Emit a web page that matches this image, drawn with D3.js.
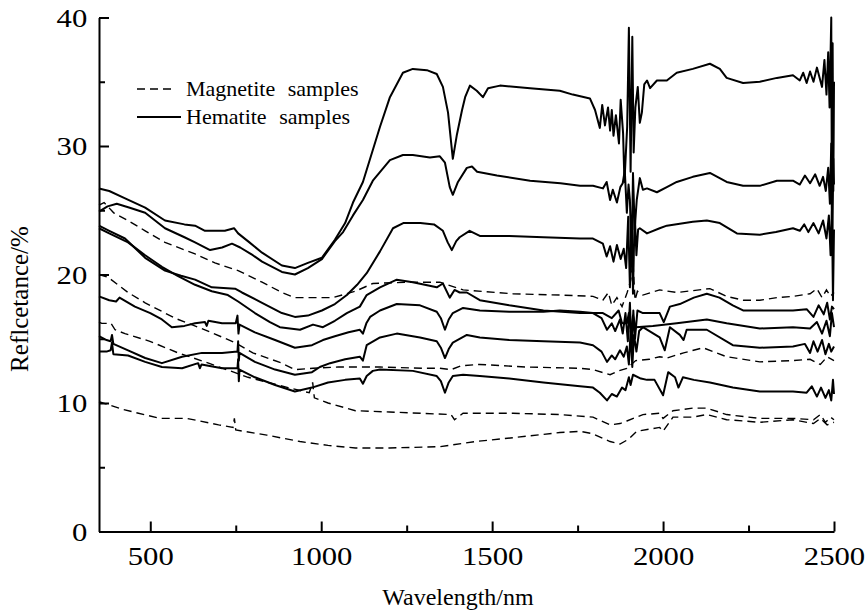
<!DOCTYPE html>
<html>
<head>
<meta charset="utf-8">
<script src="https://cdn.jsdelivr.net/npm/d3@7"></script>
<style>
  html, body { margin: 0; padding: 0; background: #fff; }
  svg { display: block; }
  text { font-family: "Liberation Serif", "Times New Roman", serif; fill: #000; }
</style>
</head>
<body>
<svg id="chart" width="867" height="611"></svg>
<script>
// ---------------- DATA (wavelength nm, reflectance %) ----------------
const xTicksMajor = [500, 1000, 1500, 2000, 2500];
const xTicksMinor = [750, 1250, 1750, 2250];
const yTicksMajor = [0, 10, 20, 30, 40];
const yTicksMinor = [5, 15, 25, 35];
const legendLabels = ["Magnetite samples", "Hematite samples"];

const hematite1 = [[350,26.7],[380,26.5],[420,26.0],[485,25.2],[543,24.2],[600,23.9],[631,23.8],[660,23.4],[718,23.4],[745,23.6],[757,23.2],[790,22.5],[827,21.7],[885,20.7],[923,20.5],[961,20.9],[1002,21.3],[1040,22.7],[1070,24.0],[1093,25.6],[1122,27.2],[1172,31.5],[1201,33.8],[1239,35.7],[1268,36.0],[1309,35.9],[1338,35.6],[1356,34.6],[1371,32.6],[1385,29.0],[1397,30.9],[1412,32.8],[1421,33.8],[1435,34.7],[1455,34.3],[1473,33.8],[1488,34.5],[1523,34.7],[1611,34.5],[1698,34.3],[1736,34.0],[1786,33.7],[1801,32.8],[1815,31.4],[1822,33.2],[1830,31.6],[1839,33.0],[1845,31.2],[1850,32.8],[1855,30.8],[1862,32.4],[1871,30.2],[1876,33.6],[1883,31.0],[1887,27.2],[1895,31.5],[1900,39.2],[1905,28.0],[1910,38.5],[1914,29.5],[1919,33.0],[1926,34.6],[1932,31.8],[1938,32.6],[1945,34.8],[1953,35.1],[1962,34.5],[1982,35.1],[2011,35.1],[2040,35.7],[2087,36.0],[2137,36.4],[2166,36.0],[2186,35.3],[2234,34.9],[2283,35.0],[2333,35.3],[2380,35.5],[2400,35.1],[2410,35.7],[2420,34.9],[2430,35.8],[2440,35.0],[2450,36.1],[2459,35.2],[2465,34.6],[2472,36.7],[2478,34.0],[2483,37.3],[2487,33.0],[2492,40.0],[2494,24.0],[2496,38.0],[2498,26.5],[2500,35.0]];

const hematite2 = [[350,24.9],[375,25.3],[402,25.5],[440,25.2],[485,24.8],[543,23.6],[600,22.9],[631,22.5],[675,21.9],[710,22.1],[739,22.4],[763,22.1],[800,21.5],[827,21.0],[885,20.2],[923,20.0],[961,20.5],[1002,21.2],[1040,22.6],[1064,23.3],[1093,24.6],[1122,25.8],[1151,27.3],[1201,28.9],[1239,29.3],[1268,29.3],[1318,29.1],[1347,29.2],[1362,28.7],[1376,26.8],[1385,26.2],[1400,27.2],[1426,28.3],[1441,28.4],[1456,28.0],[1514,27.7],[1611,27.3],[1700,27.1],[1757,26.9],[1795,26.9],[1824,26.7],[1835,27.2],[1845,25.8],[1853,26.6],[1865,25.6],[1875,26.8],[1882,27.1],[1888,28.1],[1894,24.8],[1899,27.0],[1903,25.8],[1908,21.0],[1912,27.9],[1917,23.5],[1923,25.8],[1932,27.5],[1941,26.6],[1953,26.7],[1982,26.4],[2011,26.8],[2040,27.2],[2087,27.6],[2137,27.9],[2186,27.2],[2234,26.9],[2283,26.9],[2333,27.3],[2380,27.3],[2400,27.0],[2415,27.7],[2430,27.1],[2445,27.8],[2458,26.9],[2468,27.6],[2476,26.5],[2483,28.3],[2488,25.5],[2492,30.2],[2495,22.0],[2498,29.0],[2500,27.0]];

const hematite3 = [[350,23.8],[380,23.4],[426,22.8],[485,21.3],[543,20.3],[590,19.9],[631,19.6],[680,19.0],[748,18.9],[768,18.6],[827,17.8],[885,17.0],[923,16.7],[961,16.8],[1002,17.2],[1040,17.7],[1075,18.4],[1105,19.2],[1133,20.1],[1172,21.8],[1210,23.6],[1240,24.0],[1290,24.0],[1330,23.9],[1356,23.4],[1370,22.5],[1382,21.9],[1395,22.6],[1405,22.9],[1434,23.4],[1464,23.0],[1550,23.0],[1650,22.9],[1757,22.8],[1795,22.8],[1824,22.4],[1835,21.4],[1845,22.2],[1855,21.0],[1865,22.3],[1876,21.2],[1885,22.0],[1892,20.5],[1898,24.5],[1903,19.0],[1908,24.0],[1912,18.5],[1917,24.8],[1922,21.5],[1927,23.5],[1932,23.6],[1953,23.2],[1990,23.6],[2011,23.8],[2087,24.1],[2128,24.2],[2166,24.0],[2216,23.2],[2283,23.1],[2330,23.3],[2380,23.6],[2400,23.4],[2413,23.9],[2425,23.3],[2440,24.0],[2455,23.2],[2468,24.2],[2478,22.8],[2485,24.6],[2490,21.5],[2494,25.0],[2497,18.0],[2500,23.5]];

const hematite4 = [[350,23.6],[380,23.2],[435,22.5],[485,21.5],[534,20.6],[580,19.9],[631,19.2],[680,18.7],[727,18.4],[757,17.9],[806,17.0],[850,16.3],[879,15.9],[938,15.7],[976,16.1],[1005,15.9],[1040,16.4],[1075,17.0],[1113,17.5],[1133,18.4],[1172,19.0],[1221,19.6],[1268,19.4],[1338,19.0],[1356,19.3],[1376,18.2],[1390,18.8],[1405,18.6],[1426,18.6],[1464,18.0],[1550,17.6],[1650,17.2],[1757,17.0],[1824,17.0],[1850,16.6],[1870,17.2],[1880,16.2],[1894,16.2],[1900,17.0],[1906,15.5],[1912,16.8],[1920,15.9],[1970,16.0],[2040,16.2],[2128,16.5],[2186,16.2],[2283,15.8],[2380,15.9],[2430,15.8],[2450,16.3],[2465,15.4],[2478,16.4],[2488,15.2],[2494,17.0],[2500,15.9]];

const hematite5 = [[350,18.3],[380,18.0],[400,17.9],[410,18.2],[455,17.5],[500,17.0],[534,16.5],[563,15.9],[600,16.0],[631,16.2],[660,16.3],[665,16.0],[670,16.4],[710,16.2],[750,16.2],[755,16.8],[758,15.4],[761,16.1],[806,15.5],[865,14.9],[923,14.3],[973,14.5],[1005,14.9],[1040,15.2],[1080,15.5],[1113,15.7],[1122,15.4],[1132,16.2],[1143,16.7],[1172,17.2],[1221,17.7],[1289,17.6],[1338,17.1],[1350,16.6],[1362,15.7],[1373,16.5],[1385,17.0],[1415,17.4],[1464,17.2],[1550,17.1],[1650,17.1],[1698,17.2],[1757,17.1],[1795,17.0],[1820,16.6],[1836,15.7],[1850,16.2],[1860,15.6],[1874,16.5],[1882,15.4],[1890,17.0],[1897,14.8],[1903,17.8],[1908,14.0],[1913,17.2],[1918,15.0],[1925,17.2],[1941,17.0],[1990,17.0],[2002,16.3],[2020,17.5],[2049,17.7],[2090,18.2],[2128,18.5],[2165,18.2],[2204,17.6],[2234,17.2],[2300,17.2],[2380,17.2],[2420,17.3],[2440,16.7],[2455,17.6],[2470,16.9],[2480,17.8],[2488,16.5],[2494,17.5],[2500,17.3]];

const hematite6 = [[350,15.2],[372,14.9],[384,14.8],[388,15.3],[392,14.6],[435,14.1],[485,13.5],[534,13.1],[593,13.6],[651,13.9],[710,13.9],[755,14.0],[757,14.8],[759,13.3],[761,13.9],[806,13.2],[865,12.6],[923,12.2],[973,12.4],[996,12.8],[1026,13.1],[1070,13.4],[1113,13.6],[1122,13.3],[1133,14.5],[1172,15.1],[1221,15.4],[1289,15.1],[1338,14.8],[1350,14.3],[1362,13.5],[1373,14.2],[1385,14.7],[1426,15.3],[1464,15.1],[1550,14.9],[1650,14.8],[1757,14.7],[1795,14.5],[1820,14.0],[1836,13.2],[1850,13.7],[1860,13.4],[1874,14.1],[1885,13.6],[1894,14.4],[1900,13.0],[1905,15.6],[1910,12.8],[1915,15.3],[1922,14.0],[1930,15.6],[1941,15.9],[1990,15.1],[2005,14.1],[2020,15.9],[2049,15.3],[2060,14.9],[2069,15.7],[2128,15.7],[2204,14.5],[2283,14.3],[2380,14.4],[2415,14.6],[2430,13.9],[2440,14.8],[2452,14.0],[2465,14.9],[2475,13.8],[2485,14.6],[2492,14.0],[2500,14.4]];

const hematite7 = [[350,14.0],[372,14.0],[384,14.1],[388,14.7],[392,13.8],[435,13.7],[485,13.2],[534,12.8],[593,12.7],[640,13.1],[645,12.7],[650,13.0],[710,12.7],[755,12.7],[757,13.4],[759,11.7],[761,12.6],[806,12.0],[865,11.4],[923,10.9],[973,11.2],[1020,11.6],[1070,11.8],[1113,11.9],[1122,11.5],[1133,12.1],[1151,12.5],[1172,12.6],[1268,12.5],[1338,12.1],[1350,11.7],[1362,10.8],[1373,11.6],[1385,12.1],[1415,12.2],[1464,12.1],[1550,11.9],[1650,11.6],[1757,11.3],[1795,11.2],[1815,10.8],[1836,10.2],[1850,10.7],[1865,10.5],[1880,11.2],[1890,11.0],[1900,12.0],[1905,11.4],[1912,12.2],[1935,11.9],[1953,11.8],[1975,11.8],[2000,10.6],[2015,12.4],[2035,12.0],[2045,11.2],[2058,12.0],[2090,11.8],[2137,11.6],[2204,11.2],[2283,10.9],[2380,10.9],[2420,10.8],[2435,11.3],[2450,10.5],[2462,11.2],[2475,10.4],[2485,11.0],[2492,10.2],[2497,11.8],[2500,10.7]];

const magnetite1 = [[350,25.4],[365,25.6],[393,24.8],[435,24.2],[485,23.4],[543,22.5],[631,21.6],[689,20.9],[757,20.3],[827,19.4],[885,18.6],[923,18.2],[973,18.2],[1034,18.2],[1100,18.7],[1151,19.3],[1250,19.4],[1347,19.4],[1415,18.8],[1561,18.5],[1698,18.4],[1795,18.3],[1824,18.0],[1840,18.6],[1850,17.6],[1865,18.2],[1880,17.5],[1895,18.6],[1905,19.5],[1912,21.0],[1918,18.0],[1925,18.7],[1941,18.4],[1990,18.8],[2040,18.6],[2137,18.9],[2186,18.3],[2234,18.0],[2283,18.0],[2333,18.2],[2380,18.3],[2430,18.5],[2450,18.9],[2465,18.2],[2478,18.8],[2490,18.3],[2500,18.6]];

const magnetite2 = [[350,20.0],[376,19.8],[435,18.6],[485,17.8],[572,16.6],[650,15.8],[748,14.7],[800,13.9],[885,13.1],[923,12.6],[976,12.7],[1050,12.8],[1172,12.8],[1300,12.7],[1347,12.7],[1380,12.6],[1410,12.9],[1464,13.0],[1600,12.8],[1757,12.7],[1795,12.6],[1845,12.2],[1870,12.5],[1894,12.7],[1920,13.3],[1960,13.4],[1990,13.6],[2011,13.5],[2060,13.9],[2117,14.3],[2186,13.6],[2283,13.2],[2380,13.3],[2430,13.4],[2460,13.0],[2480,13.6],[2500,13.3]];

const magnetite3 = [[350,16.3],[358,16.2],[385,16.2],[397,15.7],[426,15.4],[499,14.8],[581,13.9],[660,13.2],[786,12.0],[903,11.2],[965,10.8],[975,11.6],[980,10.4],[1020,10.0],[1100,9.4],[1200,9.3],[1380,9.1],[1390,8.7],[1415,9.2],[1561,9.2],[1698,9.1],[1795,8.9],[1845,8.3],[1874,8.4],[1894,8.6],[1941,9.1],[1990,9.2],[2000,8.8],[2029,9.4],[2087,9.6],[2128,9.6],[2186,9.1],[2283,8.8],[2380,8.8],[2440,8.7],[2460,9.1],[2475,8.5],[2490,8.9],[2500,8.7]];

const magnetite4 = [[350,10.1],[420,9.5],[528,8.8],[607,8.8],[700,8.3],[742,8.1],[746,8.8],[750,7.9],[841,7.5],[938,7.0],[1020,6.7],[1100,6.5],[1200,6.5],[1347,6.6],[1450,7.0],[1561,7.3],[1698,7.7],[1757,7.8],[1795,7.6],[1845,7.0],[1874,6.8],[1900,7.2],[1923,7.8],[1990,8.1],[2000,7.8],[2029,8.9],[2087,8.9],[2128,9.1],[2186,8.7],[2283,8.5],[2380,8.7],[2440,8.4],[2460,8.8],[2480,8.3],[2500,8.5]];

const hematiteSeries = [hematite1, hematite2, hematite3, hematite4, hematite5, hematite6, hematite7];
const magnetiteSeries = [magnetite1, magnetite2, magnetite3, magnetite4];

// ---------------- CHART ----------------
const svg = d3.select("#chart");
const x = d3.scaleLinear().domain([350, 2500]).range([99, 834]);
const y = d3.scaleLinear().domain([0, 40]).range([531.5, 17.5]);

const line = d3.line().x(d => x(d[0])).y(d => y(d[1]));

const plot = svg.append("g");
plot.selectAll("path.mag").data(magnetiteSeries).join("path")
  .attr("class", "mag")
  .attr("d", line)
  .attr("fill", "none").attr("stroke", "#000")
  .attr("stroke-width", 1.4).attr("stroke-dasharray", "8,5");

plot.selectAll("path.hem").data(hematiteSeries).join("path")
  .attr("class", "hem")
  .attr("d", line)
  .attr("fill", "none").attr("stroke", "#000")
  .attr("stroke-width", 2).attr("stroke-linejoin", "round");

// axes
const xAxis = svg.append("g").attr("transform", `translate(0,${y(0)})`)
  .call(d3.axisBottom(x).tickValues(xTicksMajor).tickSize(-10).tickSizeOuter(0).tickPadding(24).tickFormat(d3.format("d")));
const xMinor = svg.append("g").attr("transform", `translate(0,${y(0)})`)
  .call(d3.axisBottom(x).tickValues(xTicksMinor).tickSize(-6).tickSizeOuter(0).tickFormat(""));
xMinor.select(".domain").remove();

const yAxis = svg.append("g").attr("transform", `translate(${x(350)},0)`)
  .call(d3.axisLeft(y).tickValues(yTicksMajor).tickSize(-10).tickSizeOuter(0).tickPadding(12).tickFormat(d3.format("d")));
const yMinor = svg.append("g").attr("transform", `translate(${x(350)},0)`)
  .call(d3.axisLeft(y).tickValues(yTicksMinor).tickSize(-6).tickSizeOuter(0).tickFormat(""));
yMinor.select(".domain").remove();

svg.selectAll(".domain").attr("stroke", "#000").attr("stroke-width", 2);
svg.selectAll(".tick line").attr("stroke", "#000").attr("stroke-width", 2);
svg.selectAll(".tick text")
  .attr("font-family", "Liberation Serif, Times New Roman, serif")
  .attr("font-size", 26).attr("fill", "#000");
xAxis.selectAll(".tick text").attr("dy", "0").attr("y", 34)
  .attr("transform", "scale(1.18,1)");
yAxis.selectAll(".tick text").attr("dy", "0.34em").attr("x", -10)
  .attr("transform", "scale(1.18,1)");

// axis titles
svg.append("text").attr("x", 458).attr("y", 605).attr("text-anchor", "middle")
  .attr("font-size", 24).text("Wavelength/nm");
svg.append("text").attr("transform", "translate(28,299) rotate(-90)")
  .attr("text-anchor", "middle").attr("font-size", 25).text("Reflcetance/%");

// legend
const lg = svg.append("g");
lg.append("line").attr("x1", 137).attr("x2", 172).attr("y1", 89).attr("y2", 89)
  .attr("stroke", "#000").attr("stroke-width", 1.4).attr("stroke-dasharray", "8,5");
lg.append("line").attr("x1", 137).attr("x2", 181).attr("y1", 117).attr("y2", 117)
  .attr("stroke", "#000").attr("stroke-width", 2);
lg.append("text").attr("x", 186).attr("y", 96).attr("font-size", 22)
  .attr("word-spacing", 7).text(legendLabels[0]);
lg.append("text").attr("x", 186).attr("y", 124).attr("font-size", 22)
  .attr("word-spacing", 7).text(legendLabels[1]);
</script>
</body>
</html>
